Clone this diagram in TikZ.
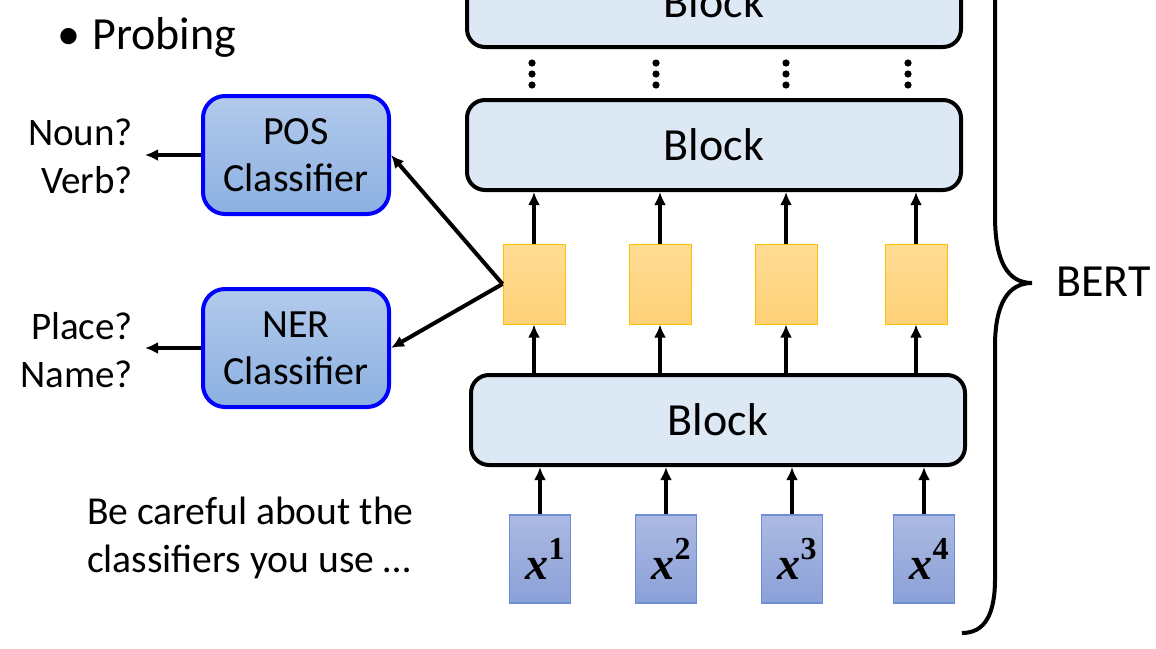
\documentclass[tikz,border=0pt]{standalone}
\usepackage{fontspec}
\setmainfont{Carlito}
\newfontfamily\tokfont{Liberation Serif}
\usetikzlibrary{arrows.meta,positioning}

\definecolor{blockfill}{RGB}{221,232,245}
\definecolor{clsborder}{RGB}{0,0,255}
\definecolor{clstop}{RGB}{178,202,236}
\definecolor{clsbot}{RGB}{140,176,225}
\definecolor{hidborder}{RGB}{255,192,0}
\definecolor{hidtop}{RGB}{255,220,148}
\definecolor{hidbot}{RGB}{255,209,120}
\definecolor{tokborder}{RGB}{110,140,215}
\definecolor{toktop}{RGB}{172,186,226}
\definecolor{tokbot}{RGB}{138,160,216}

\begin{document}
\begin{tikzpicture}[x=0.5pt, y=-0.5pt,
    block/.style={draw, line width=2pt, rounded corners=9pt, fill=blockfill, minimum width=247pt, minimum height=45pt, font=\fontsize{23}{27}\selectfont},
    probe/.style={draw=clsborder, line width=2pt, rounded corners=11pt, top color=clstop, bottom color=clsbot, minimum width=93pt, minimum height=59pt, align=center, font=\fontsize{20}{23.5}\selectfont},
    hidden/.style={draw=hidborder, line width=0.5pt, top color=hidtop, bottom color=hidbot, minimum width=31pt, minimum height=40pt, inner sep=0pt},
    token/.style={draw=tokborder, line width=0.6pt, top color=toktop, bottom color=tokbot, minimum width=30.5pt, minimum height=44pt, inner sep=0pt, font=\fontsize{23}{25}\selectfont\tokfont\bfseries},
    answer/.style={align=right, font=\fontsize{19.5}{24}\selectfont},
    arrow/.style={-{Latex[length=6.5pt,width=6pt]}, line width=2pt}
]
    \fill[white] (0,0) rectangle (1156,648);
    \clip (0,0) rectangle (1156,648);

    % BERT stack
    \node[block] (blk0) at (714,2) {Block};
    \node[block] (blk1) at (714,145) {Block};
    \node[block] (blk2) at (718,420) {Block};

    \foreach \i/\x in {1/534,2/660,3/786,4/916}
        \node[hidden] (h\i) at (\x,284) {};
    \foreach \i/\x in {1/540,2/666,3/792,4/924}
        \node[token] (x\i) at (\x,559) {\hspace{5pt}\textit{x}\raisebox{0.42em}{\fontsize{16}{16}\selectfont\i}};

    \foreach \x in {532,656,786,908}
        \foreach \y in {63,74,85}
            \fill (\x,\y) circle (1.8pt);

    \foreach \i in {1,...,4} {
        \draw[arrow] (x\i) -- (x\i |- blk2.south);
        \draw[arrow] (h\i |- blk2.north) -- (h\i);
        \draw[arrow] (h\i) -- (h\i |- blk1.south);
    }

    % probing classifiers
    \node[probe] (pos) at (296,155) {POS\\Classifier};
    \node[probe] (ner) at (296,348) {NER\\Classifier};
    \node[answer, anchor=east] (posout) at (140,156) {Noun?\\Verb?};
    \node[answer, anchor=east] (nerout) at (140,350) {Place?\\Name?};

    \draw[arrow, shorten >=2.5pt] (pos.west) -- (pos.west -| posout.east);
    \draw[arrow, shorten >=2.5pt] (ner.west) -- (ner.west -| nerout.east);
    \draw[arrow] (h1.west) -- (pos.east);
    \draw[arrow] (h1.west) -- (ner.east);

    % brace
    \coordinate (tip) at (1032,283);
    \draw[line width=2pt] (995,-10) -- (995,216) .. controls (995,262) and (1008,283) .. (tip)
        .. controls (1008,283) and (995,304) .. (995,346) -- (995,579)
        .. controls (995,614) and (985,633) .. (962,633);
    \node[anchor=west, font=\fontsize{23}{26}\selectfont] (bert) at (1049,282) {BERT};

    \node[anchor=west, font=\fontsize{23}{26}\selectfont] (probing) at (50,37) {\textbullet\hspace{0.27em}Probing};
    \node[anchor=west, align=left, font=\fontsize{19.8}{24}\selectfont] (note) at (80,538) {Be careful about the\\classifiers you use …};
\end{tikzpicture}
\end{document}
